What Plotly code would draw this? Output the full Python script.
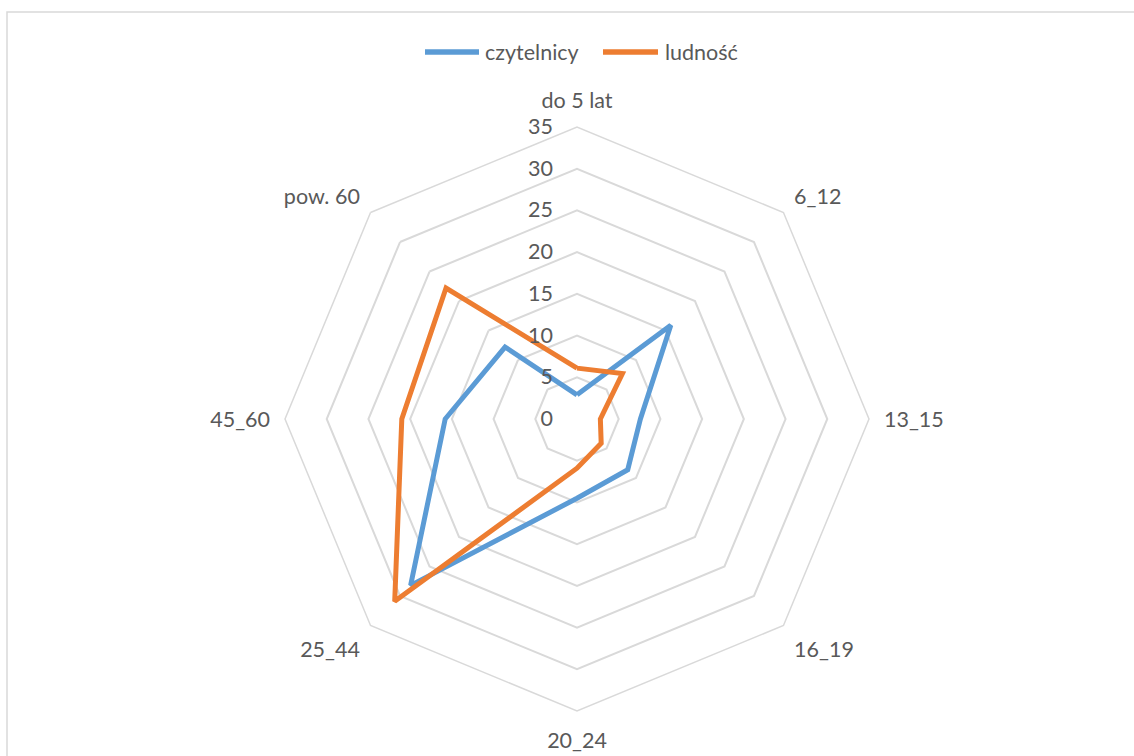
import plotly.graph_objects as go

categories = ["do 5 lat", "6_12", "13_15", "16_19", "20_24", "25_44", "45_60", "pow. 60"]
czytelnicy = [2.9, 15.9, 7.6, 8.6, 9.5, 28.2, 15.8, 12.2]
ludnosc = [6.1, 7.7, 2.8, 4.1, 5.9, 30.9, 21.0, 22.2]
radial_ticks = [0, 5, 10, 15, 20, 25, 30, 35]
series_names = ["czytelnicy", "ludność"]
series_colors = ["#5B9BD5", "#ED7D31"]

W, H = 1134, 756
cx, cy, R = 577, 419, 292

FONT = "Lato"
GRAY = "#595959"
FS = 21.5

fig = go.Figure()
for name, vals, color in zip(series_names, [czytelnicy, ludnosc], series_colors):
    fig.add_trace(go.Scatterpolar(
        r=vals + vals[:1], theta=categories + categories[:1], name=name, mode="lines",
        line=dict(color=color, width=5), hoverinfo="skip", showlegend=False))

# custom legend (line samples + text)
legend_y = 1 - 52 / H
legend_items = [(425, 479, 483), (603, 658, 663)]
shapes = []
annotations = []
for (x0, x1, xt), name, color in zip(legend_items, series_names, series_colors):
    shapes.append(dict(type="line", xref="paper", yref="paper", x0=x0 / W, x1=x1 / W,
                       y0=legend_y, y1=legend_y, line=dict(color=color, width=5.5)))
    annotations.append(dict(xref="paper", yref="paper", x=xt / W, y=legend_y, text=name,
                            showarrow=False, xanchor="left", yanchor="middle",
                            font=dict(family=FONT, size=FS, color=GRAY)))

shapes.append(dict(type="rect", xref="paper", yref="paper", x0=7 / W, x1=1.2, y0=-0.2, y1=1 - 12 / H,
                   line=dict(color="#D9D9D9", width=1.5), fillcolor="rgba(0,0,0,0)"))

fig.update_layout(
    width=W, height=H, margin=dict(l=0, r=0, t=0, b=0),
    paper_bgcolor="white", plot_bgcolor="white",
    font=dict(family=FONT, size=FS, color=GRAY),
    showlegend=False,
    polar=dict(
        bgcolor="white",
        domain=dict(x=[(cx - R) / W, (cx + R) / W], y=[(H - cy - R) / H, (H - cy + R) / H]),
        gridshape="linear",
        angularaxis=dict(direction="clockwise", rotation=90, showgrid=False,
                         showline=True, linecolor="#D9D9D9", linewidth=1.5,
                         ticks="outside", ticklen=10, tickcolor="rgba(0,0,0,0)",
                         tickfont=dict(family=FONT, size=FS, color=GRAY)),
        radialaxis=dict(range=[0, 35], tickvals=radial_ticks, ticktext=[str(t) for t in radial_ticks],
                        angle=90, tickangle=90, showline=False,
                        ticks="outside", ticklen=16, tickcolor="rgba(0,0,0,0)",
                        side="counterclockwise",
                        gridcolor="#D9D9D9", gridwidth=1.5,
                        tickfont=dict(family=FONT, size=FS, color=GRAY)),
    ),
    shapes=shapes,
    annotations=annotations,
)

fig.write_html("out.html", config={"displayModeBar": False},
               post_script="document.body.style.margin='0';document.body.style.overflow='hidden';")
